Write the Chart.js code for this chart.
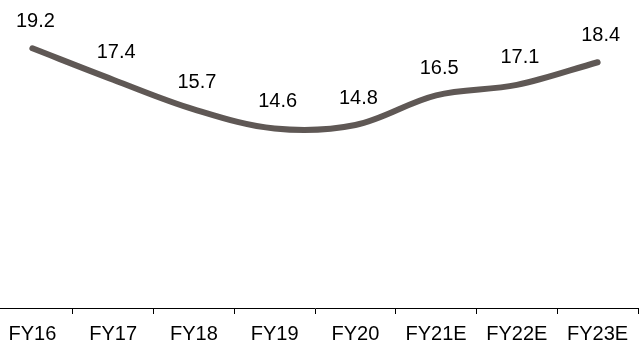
<!DOCTYPE html>
<html>
<head>
<meta charset="utf-8">
<script src="https://cdn.jsdelivr.net/npm/chart.js@4/dist/chart.umd.min.js"></script>
<style>
  html, body { margin: 0; padding: 0; background: #ffffff; overflow: hidden; }
  #wrap { position: absolute; left: -8px; top: 0; width: 648px; height: 347px; }
</style>
</head>
<body>
<div id="wrap"><canvas id="chart"></canvas></div>
<script>
// Fiscal years and the plotted ratio for each
const categories = ['FY16', 'FY17', 'FY18', 'FY19', 'FY20', 'FY21E', 'FY22E', 'FY23E'];
const values = [19.2, 17.4, 15.7, 14.6, 14.8, 16.5, 17.1, 18.4];

const FONT = '"Liberation Sans", Arial, sans-serif';

// Writes each point's value just above it
const valueLabels = {
  id: 'valueLabels',
  afterDatasetsDraw(chart) {
    const ctx = chart.ctx;
    const meta = chart.getDatasetMeta(0);
    ctx.save();
    ctx.font = '20px ' + FONT;
    ctx.fillStyle = '#000000';
    ctx.textAlign = 'center';
    ctx.textBaseline = 'middle';
    meta.data.forEach((pt, i) => {
      ctx.fillText(values[i].toFixed(1), pt.x + 3, pt.y - 27);
    });
    ctx.restore();
  }
};

new Chart(document.getElementById('chart'), {
  type: 'line',
  data: {
    labels: categories,
    datasets: [{
      data: values,
      borderColor: '#5f5855',
      borderWidth: 6,
      borderCapStyle: 'round',
      borderJoinStyle: 'round',
      tension: 0.35,
      pointRadius: 0,
      pointHoverRadius: 0,
      fill: false
    }]
  },
  options: {
    responsive: true,
    maintainAspectRatio: false,
    devicePixelRatio: 1,
    animation: false,
    events: [],
    layout: { padding: { top: 3, right: 2, bottom: 1, left: 0 } },
    plugins: {
      legend: { display: false },
      tooltip: { enabled: false }
    },
    scales: {
      x: {
        offset: true,
        afterFit(scale) { scale.height = 38; },
        grid: {
          offset: true,
          drawOnChartArea: false,
          drawTicks: true,
          tickLength: 6,
          color: '#000000',
          lineWidth: 1
        },
        border: { display: true, color: '#000000', width: 1 },
        ticks: {
          color: '#000000',
          padding: 8,
          maxRotation: 0,
          autoSkip: false,
          font: { family: FONT, size: 20 }
        }
      },
      y: {
        display: false,
        min: 4.3,
        max: 21.8
      }
    }
  },
  plugins: [valueLabels]
});
</script>
</body>
</html>
